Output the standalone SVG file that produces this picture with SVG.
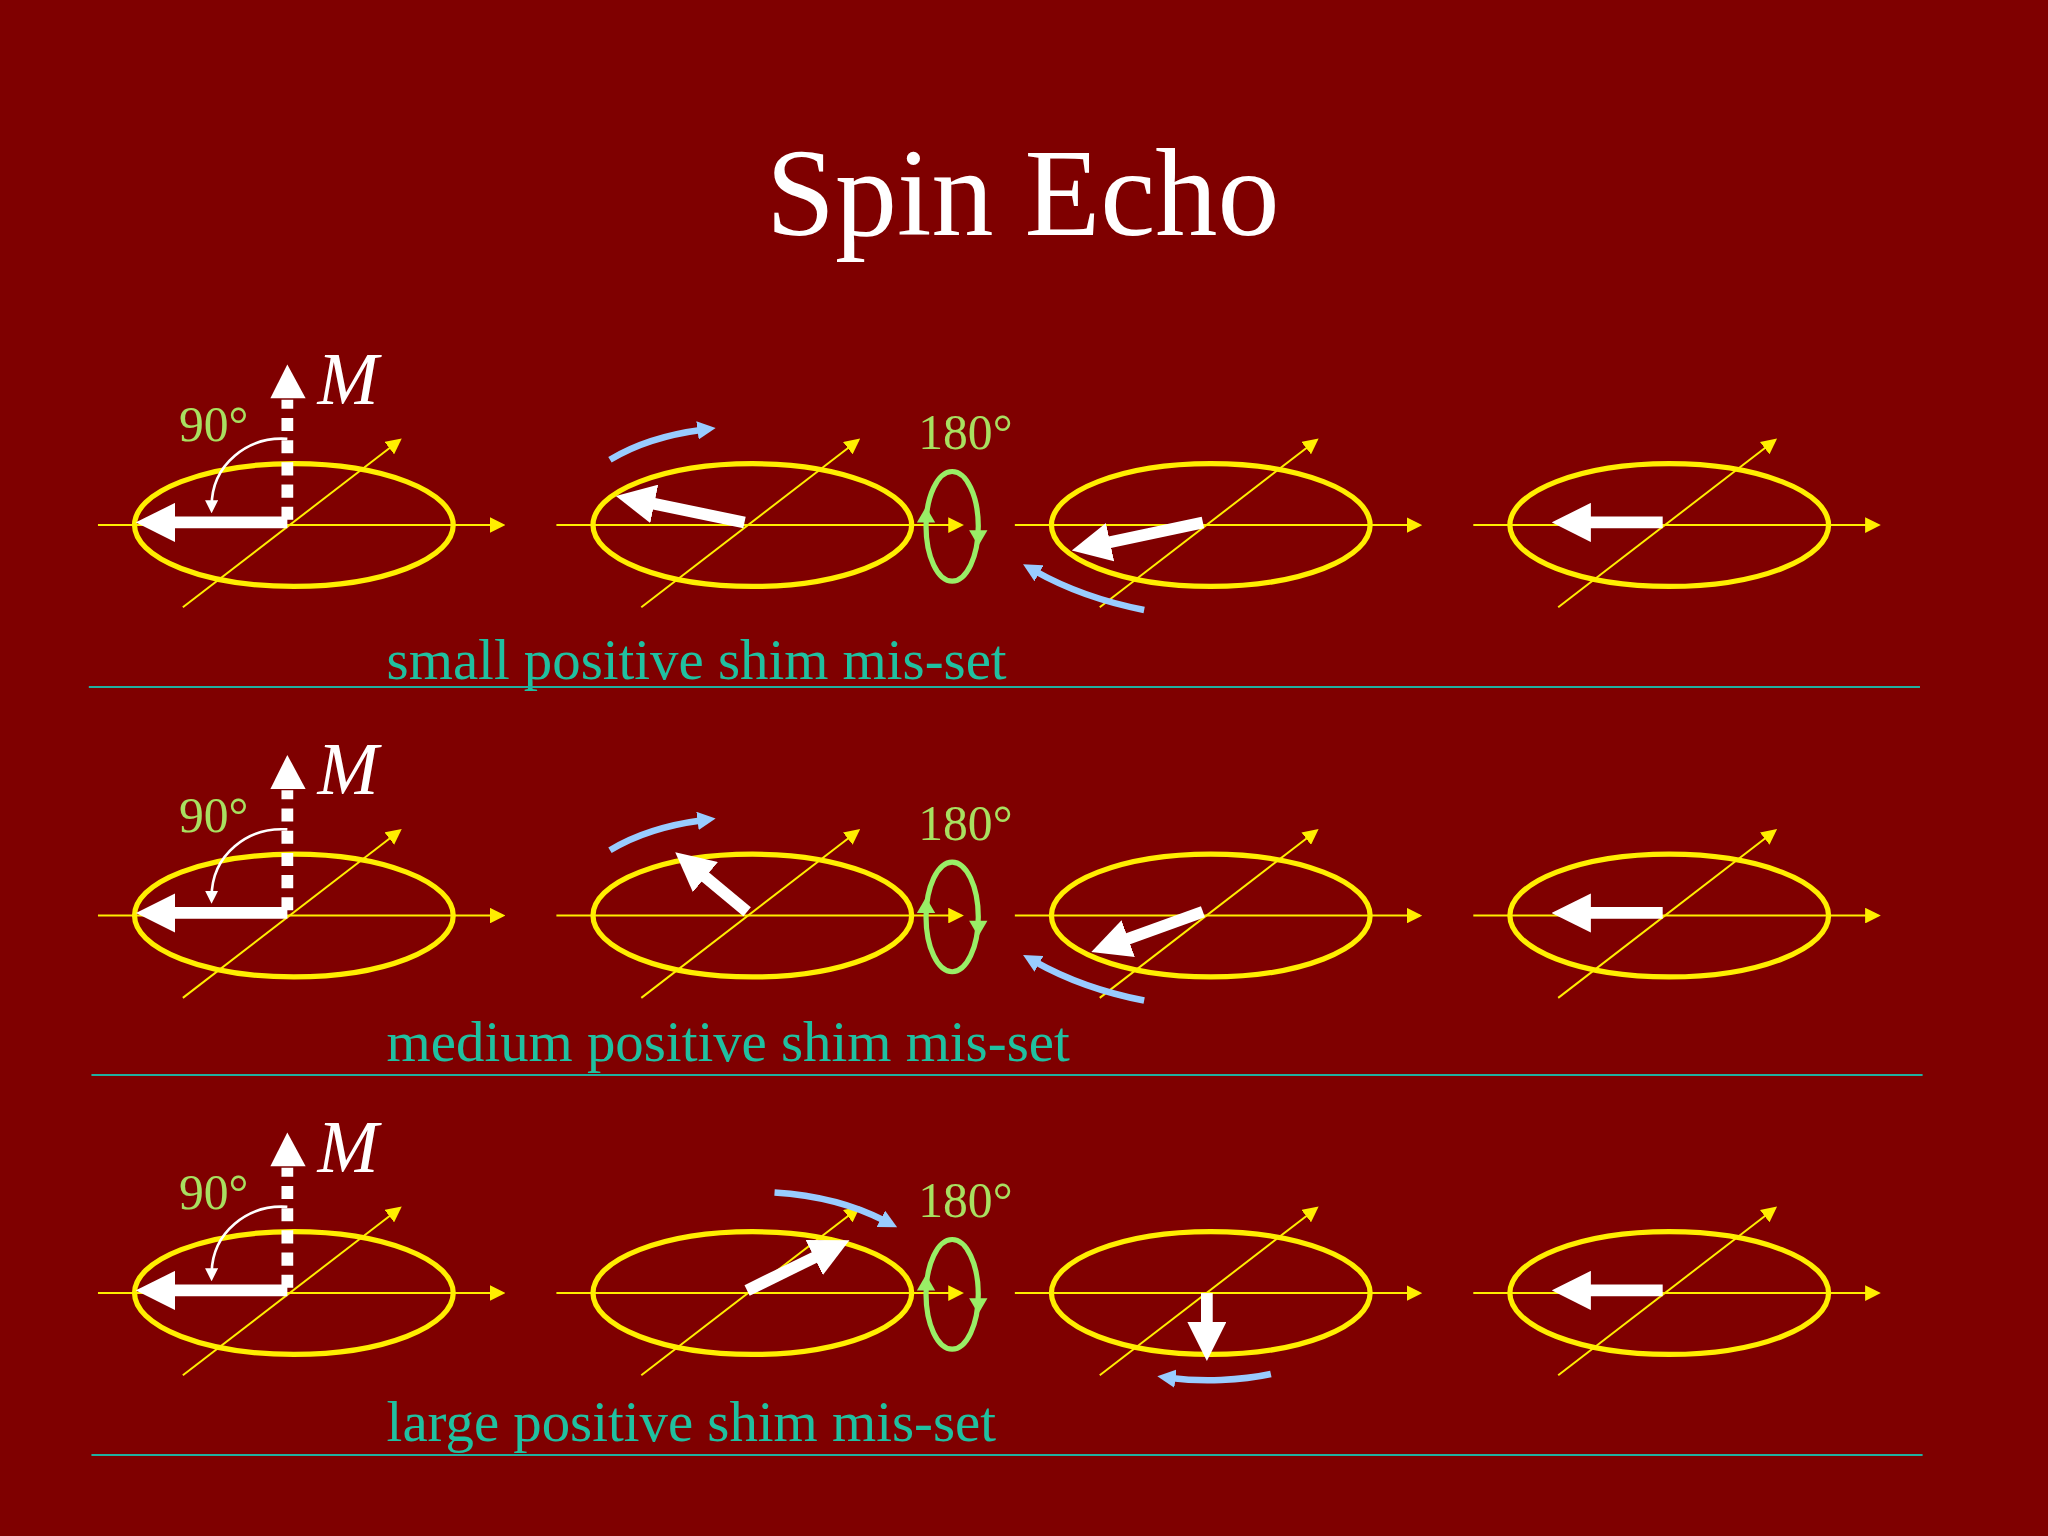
<svg xmlns="http://www.w3.org/2000/svg" width="2048" height="1536" viewBox="0 0 2048 1536" xmlns:xlink="http://www.w3.org/1999/xlink">
<style>
.ax{stroke:#ffee00;stroke-width:1.5;fill:none}
.el{stroke:#ffee00;stroke-width:4;fill:none}
.wa{stroke:#fff;stroke-width:9;fill:none}
.bl{stroke:#99ccff;stroke-width:5;fill:none}
.lbl{font-family:"Liberation Serif",serif;font-size:43.5px;fill:#20c0a0}
.deg{font-family:"Liberation Serif",serif;font-size:38px;fill:#a8e060}
.m{font-family:"Liberation Serif",serif;font-size:56px;font-style:italic;fill:#fff}
.sep{stroke:#20b0a0;stroke-width:1.5}
</style>
<defs>
<marker id="ya" markerWidth="12" markerHeight="12" refX="10" refY="6" orient="auto" markerUnits="userSpaceOnUse" viewBox="0 0 12 12"><path d="M0,0L12,6L0,12z" fill="#ffee00"/></marker>
<marker id="wh" markerWidth="30" markerHeight="30" refX="4" refY="15" orient="auto" markerUnits="userSpaceOnUse" viewBox="0 0 30 30"><path d="M0,0L30,15L0,30z" fill="#fff"/></marker>
<marker id="bh" markerWidth="14" markerHeight="14" refX="4" refY="7" orient="auto" markerUnits="userSpaceOnUse" viewBox="0 0 14 14"><path d="M0,0L14,7L0,14z" fill="#99ccff"/></marker>
<marker id="sw" markerWidth="10" markerHeight="10" refX="5" refY="5" orient="auto" markerUnits="userSpaceOnUse" viewBox="0 0 10 10"><path d="M0,0L10,5L0,10z" fill="#fff"/></marker>
<g id="axes">
<line class="ax" x1="75" y1="402" x2="385" y2="402" marker-end="url(#ya)"/>
<line class="ax" x1="140" y1="465" x2="306" y2="337" marker-end="url(#ya)"/>
<ellipse class="el" cx="225" cy="402" rx="122" ry="47"/>
</g>
<g id="m90">
<line x1="220" y1="398" x2="220" y2="306" stroke="#fff" stroke-width="9" stroke-dasharray="10,7"/>
<path d="M220,279L207,305L234,305z" fill="#fff"/>
<path d="M220,336C190,334 162,355 162,388" stroke="#fff" stroke-width="2" fill="none" marker-end="url(#sw)"/>
<line class="wa" x1="220" y1="400" x2="130" y2="400" marker-end="url(#wh)"/>
<text x="137" y="338" class="deg">90°</text>
<text x="243" y="309" class="m">M</text>
</g>
<g id="loop">
<ellipse cx="729" cy="403" rx="20" ry="42" stroke="#99ee66" stroke-width="4" fill="none"/>
<path d="M709,388L702,400L716,400z" fill="#99ee66"/>
<path d="M749,418L742,406L756,406z" fill="#99ee66"/>
<text x="703" y="344" class="deg">180°</text>
</g>
</defs>
<rect width="2048" height="1536" fill="#7f0000"/>
<g transform="scale(1.30612)">
<text x="783" y="180" text-anchor="middle" font-family="Liberation Serif,serif" font-size="95" fill="#fff">Spin Echo</text>
<g id="row1">
<use xlink:href="#axes"/><use xlink:href="#axes" x="351"/><use xlink:href="#axes" x="702"/><use xlink:href="#axes" x="1053"/>
<use xlink:href="#m90"/><use xlink:href="#loop"/>
<line class="wa" x1="570" y1="400" x2="497" y2="385" marker-end="url(#wh)"/>
<path class="bl" d="M467,352C490,338 515,332 538,329" marker-end="url(#bh)"/>
<line class="wa" x1="921" y1="400" x2="846" y2="416" marker-end="url(#wh)"/>
<path class="bl" d="M876,467C840,460 815,450 792,437" marker-end="url(#bh)"/>
<line class="wa" x1="1273" y1="400" x2="1214" y2="400" marker-end="url(#wh)"/>
<text x="296" y="520" class="lbl">small positive shim mis-set</text>
<line class="sep" x1="68" y1="526" x2="1470" y2="526"/>
</g>
<g id="row2" transform="translate(0,299)">
<use xlink:href="#axes"/><use xlink:href="#axes" x="351"/><use xlink:href="#axes" x="702"/><use xlink:href="#axes" x="1053"/>
<use xlink:href="#m90"/><use xlink:href="#loop"/>
<line class="wa" x1="572" y1="399" x2="537" y2="370" marker-end="url(#wh)"/>
<path class="bl" d="M467,352C490,338 515,332 538,329" marker-end="url(#bh)"/>
<line class="wa" x1="921" y1="399" x2="860" y2="421" marker-end="url(#wh)"/>
<path class="bl" d="M876,467C840,460 815,450 792,437" marker-end="url(#bh)"/>
<line class="wa" x1="1273" y1="400" x2="1214" y2="400" marker-end="url(#wh)"/>
</g>
<text x="296" y="812" class="lbl">medium positive shim mis-set</text>
<line class="sep" x1="70" y1="823" x2="1472" y2="823"/>
<g id="row3" transform="translate(0,588)">
<use xlink:href="#axes"/><use xlink:href="#axes" x="351"/><use xlink:href="#axes" x="702"/><use xlink:href="#axes" x="1053"/>
<use xlink:href="#m90"/><use xlink:href="#loop"/>
<line class="wa" x1="572" y1="400" x2="627" y2="373" marker-end="url(#wh)"/>
<path class="bl" d="M593,325C625,327 655,335 678,347" marker-end="url(#bh)"/>
<line class="wa" x1="924" y1="402" x2="924" y2="428" marker-end="url(#wh)"/>
<path class="bl" d="M973,464C950,469 920,470 896,467" marker-end="url(#bh)"/>
<line class="wa" x1="1273" y1="400" x2="1214" y2="400" marker-end="url(#wh)"/>
</g>
<text x="296" y="1103" class="lbl">large positive shim mis-set</text>
<line class="sep" x1="70" y1="1114" x2="1472" y2="1114"/>
</g>
</svg>
